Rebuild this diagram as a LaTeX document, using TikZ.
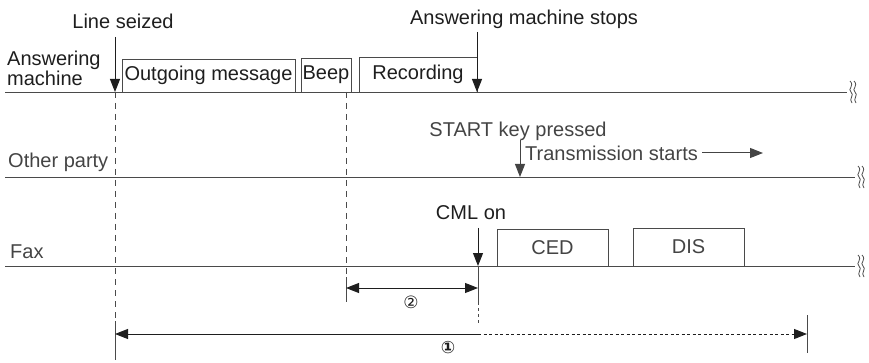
\documentclass[tikz,border=0pt]{standalone}
\usepackage{fontspec}
\setmainfont{Liberation Sans}
\newfontfamily\symfont{DejaVu Sans}
\usetikzlibrary{arrows.meta}
\definecolor{ink}{HTML}{1E1E1E}
\definecolor{soft}{HTML}{444444}
\definecolor{linegray}{HTML}{4A4A4A}
\tikzset{
  lane/.style={draw=linegray, line width=0.9pt},
  lbl/.style={font=\fontsize{20}{23}\selectfont, text=ink, inner sep=0pt},
  lbls/.style={font=\fontsize{20}{23}\selectfont, text=soft, inner sep=0pt},
  sigbox/.style={draw=linegray, line width=0.9pt, inner sep=0pt, font=\fontsize{20}{23}\selectfont, text=ink},
  arr/.style={draw=ink, line width=1pt, -{Triangle[length=13pt,width=10pt]}},
  vdash/.style={draw=linegray, line width=0.8pt, dash pattern=on 6pt off 5pt},
  tickline/.style={draw=linegray, line width=0.9pt},
  circ/.style={font=\symfont\fontsize{17}{19}\selectfont, text=ink, inner sep=0pt},
  brk/.pic={
    \draw[linegray, line width=0.8pt] (0,-11) .. controls (5,-6) and (-3,-3) .. (1,0) .. controls (5,3) and (-2,7) .. (2,11);
    \draw[linegray, line width=0.8pt] (4,-11) .. controls (9,-6) and (1,-3) .. (5,0) .. controls (9,3) and (2,7) .. (6,11);
  }
}
\begin{document}
\begin{tikzpicture}[x=1pt,y=-1pt]
\useasboundingbox (0,0) rectangle (869,363);

% lanes
\coordinate (a0) at (5,92);   \coordinate (a1) at (847,92);
\coordinate (o0) at (5,177);  \coordinate (o1) at (855,177);
\coordinate (f0) at (5,266);  \coordinate (f1) at (855,266);
\draw[lane] (a0) -- (a1);
\draw[lane] (o0) -- (o1);
\draw[lane] (f0) -- (f1);
\pic at ([xshift=3pt]a1) {brk};
\pic at ([xshift=3pt]o1) {brk};
\pic at ([xshift=3pt]f1) {brk};

% lane labels
\node[lbl, align=left, anchor=west] (lanA) at (7,68) {Answering\\[-3pt]machine};
\node[lbls, anchor=west] (lanO) at (8,162) {Other party};
\node[lbls, anchor=west] (lanF) at (10,252) {Fax};

% answering machine boxes
\node[sigbox, minimum width=173pt, minimum height=33pt] (ogm) at (208.5,75.5) {Outgoing message};
\node[sigbox, minimum width=50pt, minimum height=34pt] (beep) at (326,75) {Beep};
\node[sigbox, minimum width=118pt, minimum height=35pt] (rec) at (418,74.5) {Recording};

% fax boxes
\node[sigbox, text=soft, minimum width=111pt, minimum height=37pt] (ced) at (552.5,247.5) {CED};
\node[sigbox, text=soft, minimum width=111pt, minimum height=38pt] (dis) at (688.5,247) {DIS};

% Line seized
\node[lbl] (ls) at (123,21) {Line seized};
\coordinate (lsT) at (115,37);
\coordinate (lsB) at (115,92);
\coordinate (lsD) at (115,321);
\coordinate (lsE) at (115,360);
\draw[arr] (lsT) -- (lsB);
\draw[vdash] (lsB) -- (lsD);
\draw[tickline] (lsD) -- (lsE);

% Answering machine stops
\node[lbl] (ams) at (524,19) {Answering machine stops};
\coordinate (amsT) at (477,32);
\coordinate (amsB) at (477,92);
\draw[arr] (amsT) -- (amsB);

% Beep dashed
\coordinate (bpT) at (346,92);
\coordinate (bpD) at (346,277);
\coordinate (bpE) at (346,302);
\draw[vdash] (bpT) -- (bpD);
\draw[tickline] (bpD) -- (bpE);

% START key pressed
\node[lbls] (skp) at (518,131) {START key pressed};
\coordinate (skT) at (520,140);
\coordinate (skB) at (520,177);
\draw[arr, draw=soft] (skT) -- (skB);
\node[lbls, anchor=west] (tx) at (525,153) {Transmission starts};
\coordinate (txA) at (702,153);
\coordinate (txB) at (763,153);
\draw[arr, draw=soft] (txA) -- (txB);

% CML on
\node[lbl] (cml) at (471,213) {CML on};
\coordinate (cmT) at (478,228);
\coordinate (cmB) at (478,266);
\coordinate (cmD) at (478,302);
\coordinate (cmE) at (478,326);
\draw[arr] (cmT) -- (cmB);
\draw[tickline] (cmB) -- (cmD);
\draw[vdash, dash pattern=on 3pt off 3pt] (cmD) -- (cmE);

% interval 2
\coordinate (i2L) at (346,288);
\coordinate (i2R) at (478,288);
\draw[arr, {Triangle[length=13pt,width=10pt]}-{Triangle[length=13pt,width=10pt]}] (i2L) -- (i2R);
\node[circ] (n2) at (411,302) {②};

% interval 1
\coordinate (i1L) at (115,334);
\coordinate (i1M) at (478,334);
\coordinate (i1R) at (807,334);
\draw[arr] (i1M) -- (i1L);
\draw[arr, dash pattern=on 3pt off 2.5pt] (i1M) -- (i1R);
\coordinate (r1T) at (807,315);
\coordinate (r1B) at (807,353);
\draw[tickline] (r1T) -- (r1B);
\node[circ, font=\symfont\bfseries\fontsize{17}{19}\selectfont] (n1) at (448,348) {①};
\end{tikzpicture}
\end{document}
